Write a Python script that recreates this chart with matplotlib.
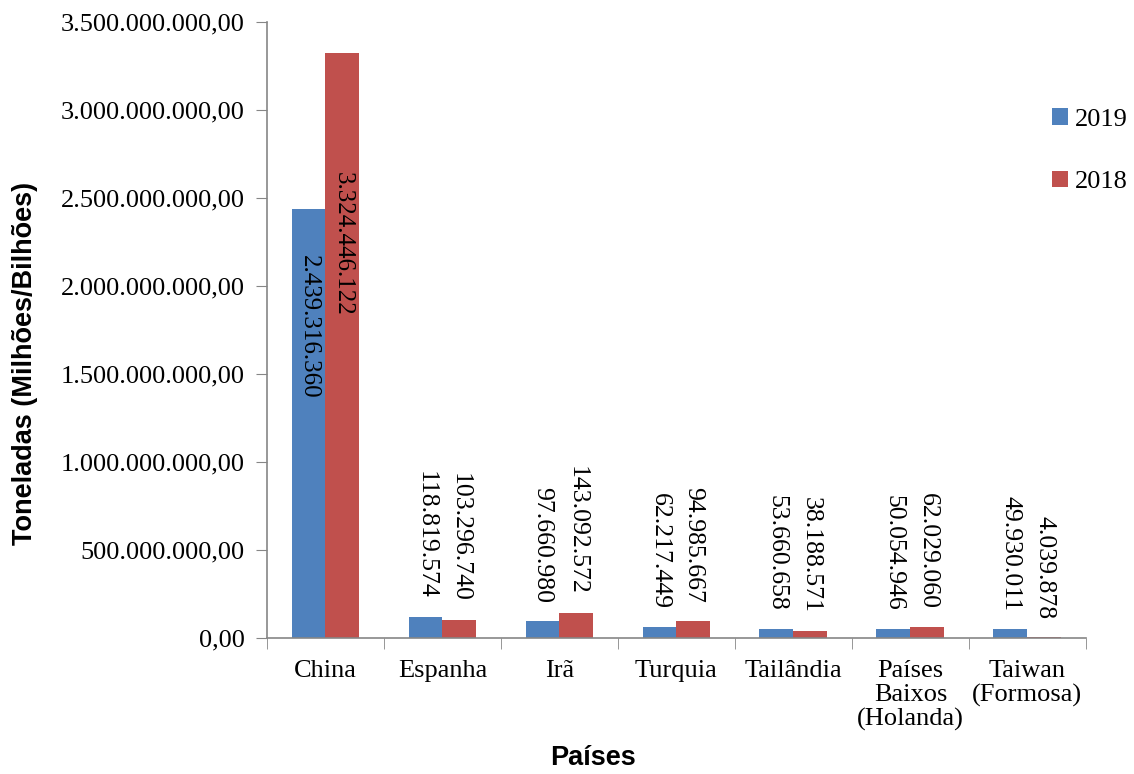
import matplotlib.pyplot as plt
import numpy as np

paises = ["China", "Espanha", "Irã", "Turquia", "Tailândia",
          "Países\nBaixos\n(Holanda)", "Taiwan\n(Formosa)"]
v2019 = [2439316360, 118819574, 97660980, 62217449, 53660658, 50054946, 49930011]
v2018 = [3324446122, 103296740, 143092572, 94985667, 38188571, 62029060, 4039878]

azul = "#4F81BD"
vermelho = "#C0504D"
cinza = "#868686"

plt.rcParams["font.family"] = "Liberation Serif"

fig = plt.figure(figsize=(11.34, 7.74), dpi=100)
ax = fig.add_axes([0.2354, 0.1757, 0.7222, 0.7959])

x = np.arange(len(paises))
w = 0.29
b1 = ax.bar(x - w / 2, v2019, w, color=azul, label="2019")
b2 = ax.bar(x + w / 2, v2018, w, color=vermelho, label="2018")


def fmt(v):
    return f"{v:,}".replace(",", ".")


# rótulos dos dados (China dentro da barra, demais acima)
for bars, vals, frac in ((b1, v2019, 0.892), (b2, v2018, 0.797)):
    for i, (r, v) in enumerate(zip(bars, vals)):
        cx = r.get_x() + r.get_width() / 2
        if i == 0:
            ax.text(cx, v * frac, fmt(v), rotation=270, ha="center", va="top",
                    fontsize=18)
        else:
            ax.annotate(fmt(v), (cx, v), xytext=(0, 13), textcoords="offset points",
                        rotation=270, ha="center", va="bottom", fontsize=18.5)

ax.set_ylim(0, 3.5e9)
ax.set_xlim(-0.5, len(paises) - 0.5)
yt = np.arange(0, 3.5e9 + 1, 5e8)
ax.set_yticks(yt)
ax.set_yticklabels([f"{t:,.2f}".replace(",", "X").replace(".", ",").replace("X", ".") for t in yt],
                   fontsize=19)
ax.set_xticks(x)
ax.set_xticklabels(paises, fontsize=19, linespacing=1.1)
ax.set_xticks(np.arange(-0.5, len(paises)), minor=True)
ax.tick_params(axis="x", which="major", length=0, pad=16)
ax.tick_params(axis="x", which="minor", length=8, color=cinza)
ax.tick_params(axis="y", length=8, color=cinza, pad=8)

for s in ("top", "right"):
    ax.spines[s].set_visible(False)
for s in ("left", "bottom"):
    ax.spines[s].set_color(cinza)
    ax.spines[s].set_linewidth(1.2)

fig.text(0.523, 0.004, "Países", ha="center", va="bottom", fontsize=19.5,
         fontweight="bold", family="Liberation Sans")
fig.text(0.022, 0.531, "Toneladas (Milhões/Bilhões)", ha="center", va="center",
         rotation=90, fontsize=19.5, fontweight="bold", family="Liberation Sans")

ax.legend(loc="upper left", bbox_to_anchor=(0.928, 0.860),
          bbox_transform=fig.transFigure, frameon=False,
          fontsize=19, handlelength=0.6, handleheight=0.6, handletextpad=0.25,
          labelspacing=1.5, borderaxespad=0, borderpad=0)

fig.savefig("out.png", dpi=100)
